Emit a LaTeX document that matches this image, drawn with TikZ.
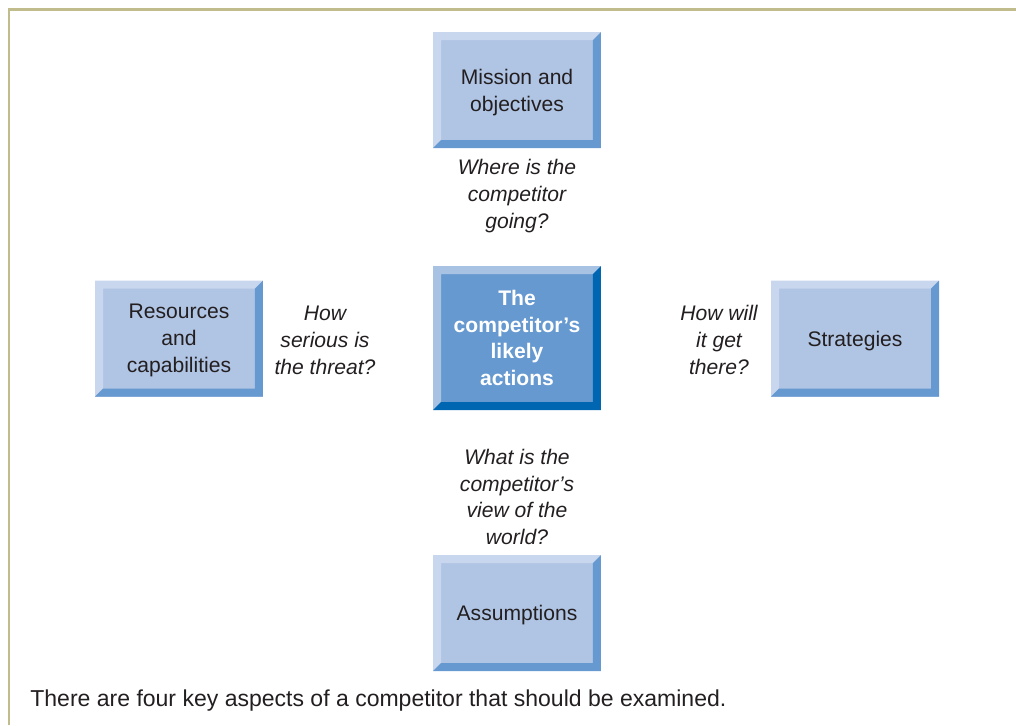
\documentclass[tikz,border=0pt]{standalone}
\usepackage{fontspec}
\setmainfont{Liberation Sans}
\definecolor{framekhaki}{RGB}{192,188,140}
\definecolor{inktext}{RGB}{35,31,32}
\definecolor{boxface}{RGB}{176,196,228}
\definecolor{boxlight}{RGB}{200,214,238}
\definecolor{boxdark}{RGB}{102,153,208}
\definecolor{coreface}{RGB}{102,153,208}
\definecolor{corelight}{RGB}{168,194,228}
\definecolor{coredark}{RGB}{0,102,178}
\newlength{\bw}
\setlength{\bw}{0.16cm}
% bevelled edges: light on top/left, dark on bottom/right
\newcommand{\bevels}[2]{%
  \fill[#1] (path picture bounding box.south west) -- (path picture bounding box.north west)
    -- (path picture bounding box.north east) -- ([shift={(-\bw,-\bw)}]path picture bounding box.north east)
    -- ([shift={(\bw,-\bw)}]path picture bounding box.north west) -- ([shift={(\bw,\bw)}]path picture bounding box.south west) -- cycle;
  \fill[#2] (path picture bounding box.south west) -- (path picture bounding box.south east)
    -- (path picture bounding box.north east) -- ([shift={(-\bw,-\bw)}]path picture bounding box.north east)
    -- ([shift={(-\bw,\bw)}]path picture bounding box.south east) -- ([shift={(\bw,\bw)}]path picture bounding box.south west) -- cycle;
}
\begin{document}
\begin{tikzpicture}[x=0.02cm, y=-0.02cm,
    txt/.style={font=\fontsize{12}{15.3}\selectfont, text=inktext, align=center},
    bevelbox/.style={txt, minimum width=3.36cm, inner sep=0pt},
    aspect/.style={bevelbox, fill=boxface, minimum height=2.32cm, text depth=0pt,
      path picture={\bevels{boxlight}{boxdark}}},
    core/.style={bevelbox, fill=coreface, minimum height=2.88cm, text=white, font=\fontsize{12}{15.3}\selectfont\bfseries,
      path picture={\bevels{corelight}{coredark}}},
    question/.style={txt, font=\fontsize{12}{15.3}\selectfont\itshape}]
\useasboundingbox (0,0) rectangle (1016,725);
% frame
\draw[framekhaki, line width=0.06cm] (9,725) -- (9,9) -- (1016,9);
% boxes
\node[core] (actions) at (517,338) {The\\competitor's\\likely\\actions};
\node[aspect] (mission) at (517,90) {Mission and\\objectives};
\node[aspect] (resources) at (179,338.5) {Resources\\and\\capabilities};
\node[aspect] (strategies) at (855,338.5) {Strategies};
\node[aspect] (assumptions) at (517,613) {Assumptions};
% questions
\node[question] (going) at (517,196) {Where is the\\competitor\\going?};
\node[question] (threat) at (325,340) {How\\serious is\\the threat?};
\node[question] (there) at (719,340) {How will\\it get\\there?};
\node[question] (world) at (517,497) {What is the\\competitor's\\view of the\\world?};
% caption
\node[txt, anchor=west, inner sep=0pt, font=\fontsize{13.1}{16}\selectfont] (caption) at (30,701) {There are four key aspects of a competitor that should be examined.};
\end{tikzpicture}
\end{document}
